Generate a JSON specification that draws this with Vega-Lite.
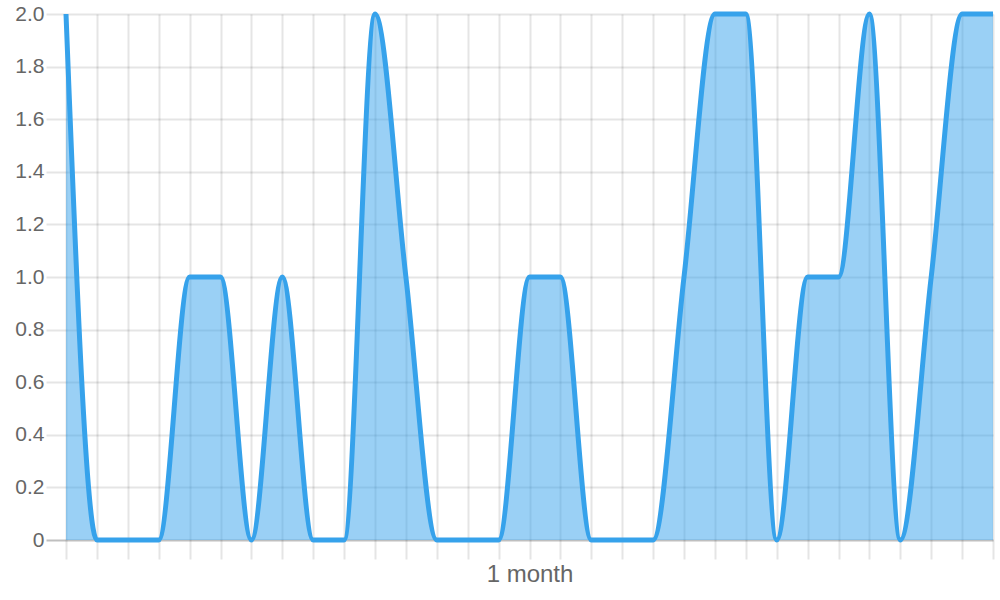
{
  "$schema": "https://vega.github.io/schema/vega-lite/v6.json",
  "width": 927,
  "height": 526,
  "autosize": {"type": "none"},
  "padding": {"left": 66, "top": 14, "right": 7, "bottom": 60},
  "background": "white",
  "config": {"view": {"stroke": null}},
  "data": {
    "values": [
      {"i": 0, "v": 2}, {"i": 1, "v": 0}, {"i": 2, "v": 0}, {"i": 3, "v": 0},
      {"i": 4, "v": 1}, {"i": 5, "v": 1}, {"i": 6, "v": 0}, {"i": 7, "v": 1},
      {"i": 8, "v": 0}, {"i": 9, "v": 0}, {"i": 10, "v": 2}, {"i": 11, "v": 1},
      {"i": 12, "v": 0}, {"i": 13, "v": 0}, {"i": 14, "v": 0}, {"i": 15, "v": 1},
      {"i": 16, "v": 1}, {"i": 17, "v": 0}, {"i": 18, "v": 0}, {"i": 19, "v": 0},
      {"i": 20, "v": 1}, {"i": 21, "v": 2}, {"i": 22, "v": 2}, {"i": 23, "v": 0},
      {"i": 24, "v": 1}, {"i": 25, "v": 1}, {"i": 26, "v": 2}, {"i": 27, "v": 0},
      {"i": 28, "v": 1}, {"i": 29, "v": 2}, {"i": 30, "v": 2}
    ]
  },
  "encoding": {
    "x": {
      "field": "i",
      "type": "quantitative",
      "scale": {"domain": [0, 30], "nice": false, "zero": false},
      "axis": {
        "title": null,
        "values": [0,1,2,3,4,5,6,7,8,9,10,11,12,13,14,15,16,17,18,19,20,21,22,23,24,25,26,27,28,29,30],
        "labelExpr": "datum.value === 15 ? '1 month' : ''",
        "grid": true,
        "gridColor": "rgba(0,0,0,0.1)",
        "gridWidth": 2,
        "tickColor": "rgba(0,0,0,0.1)",
        "tickWidth": 2,
        "tickSize": 19,
        "domain": false,
        "labelFont": "Liberation Sans",
        "labelFontSize": 24,
        "labelColor": "#666",
        "labelPadding": 3,
        "labelOverlap": false,
        "labelFlush": false
      }
    },
    "y": {
      "field": "v",
      "type": "quantitative",
      "scale": {"domain": [0, 2], "nice": false},
      "axis": {
        "title": null,
        "values": [0, 0.2, 0.4, 0.6, 0.8, 1, 1.2, 1.4, 1.6, 1.8, 2],
        "labelExpr": "datum.value === 0 ? '0' : format(datum.value, '.1f')",
        "grid": true,
        "gridColor": {"condition": {"test": "datum.value === 0", "value": "rgba(0,0,0,0.25)"}, "value": "rgba(0,0,0,0.1)"},
        "tickColor": {"condition": {"test": "datum.value === 0", "value": "rgba(0,0,0,0.25)"}, "value": "rgba(0,0,0,0.1)"},
        "gridWidth": 2,
        "tickWidth": 2,
        "tickSize": 20,
        "domain": false,
        "labelFont": "Liberation Sans",
        "labelFontSize": 21,
        "labelColor": "#666",
        "labelPadding": 2,
        "labelOverlap": false,
        "labelFlush": false
      }
    }
  },
  "layer": [
    {
      "mark": {"type": "area", "interpolate": "monotone", "color": "#36A2EB", "fillOpacity": 0.5, "clip": true}
    },
    {
      "mark": {"type": "line", "interpolate": "monotone", "color": "#36A2EB", "strokeWidth": 5, "clip": false}
    }
  ]
}
